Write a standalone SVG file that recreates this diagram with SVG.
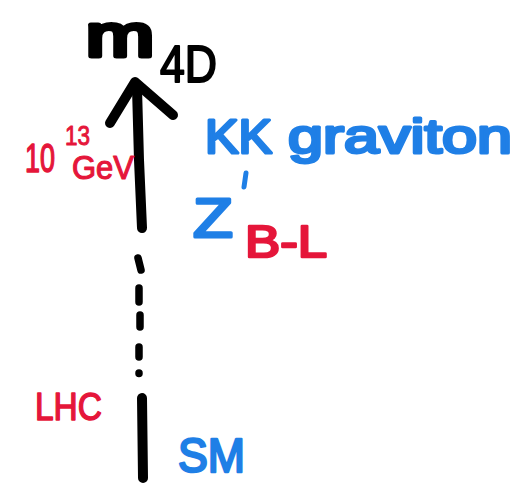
<svg xmlns="http://www.w3.org/2000/svg" width="519" height="486" viewBox="0 0 519 486">
<style>
.ink{fill:none;stroke:#000;stroke-linecap:round;stroke-linejoin:round}
.t{font-family:"Liberation Sans",Arial,sans-serif;stroke-linejoin:round}
.blue{fill:#1f7fe6;stroke:#1f7fe6}
.red{fill:#e5163a;stroke:#e5163a}
.blk{fill:#000;stroke:#000}
</style>
<rect width="519" height="486" fill="#fff"/>
<g id="connectors">
<g id="scale-axis">
<path class="ink" stroke-width="10" d="M142,228 L139,160 L137,88"/>
<polyline class="ink" stroke-width="10" points="110,123 135,82 173,115"/>
<path class="ink" stroke-width="7.5" d="M138,258 L141,270 M139,288 L139,302 M140,315 L140,327 M139,347 L139,357 M139,373 L139,373.5"/>
<path class="ink" stroke-width="10" d="M142,398 L143,478"/>
</g>
</g>
<g id="m4D">
<text class="t blk" x="86" y="56" font-size="60" stroke-width="5" textLength="68" lengthAdjust="spacingAndGlyphs">m</text>
<text class="t blk" x="160" y="82" font-size="52" stroke-width="2" textLength="57" lengthAdjust="spacingAndGlyphs">4D</text>
</g>
<g id="scale-1e13">
<text class="t red" x="25" y="172" font-size="40" stroke-width="1.5" textLength="30" lengthAdjust="spacingAndGlyphs">10</text>
<text class="t red" x="65" y="145" font-size="28" stroke-width="1" textLength="25" lengthAdjust="spacingAndGlyphs">13</text>
<text class="t red" x="72" y="179" font-size="34" stroke-width="1.2" textLength="62" lengthAdjust="spacingAndGlyphs">GeV</text>
</g>
<g id="kk-graviton">
<text class="t blue" y="153" font-size="48" stroke-width="3"><tspan x="205" textLength="81" lengthAdjust="spacingAndGlyphs">KK </tspan><tspan x="288" textLength="224" lengthAdjust="spacingAndGlyphs">graviton</tspan></text>
</g>
<g id="z-prime">
<text class="t blue" x="193" y="237" font-size="56" stroke-width="3" textLength="40" lengthAdjust="spacingAndGlyphs">Z</text>
<path d="M246,173 L244,187" stroke="#1f7fe6" stroke-width="5" stroke-linecap="round"/>
<text class="t red" x="245" y="257" font-size="44" stroke-width="2.5" textLength="82" lengthAdjust="spacingAndGlyphs">B-L</text>
</g>
<g id="lhc">
<text class="t red" x="35" y="420" font-size="38" stroke-width="1.5" textLength="67" lengthAdjust="spacingAndGlyphs">LHC</text>
</g>
<g id="sm">
<text class="t blue" x="178" y="472" font-size="48" stroke-width="2.5" textLength="67" lengthAdjust="spacingAndGlyphs">SM</text>
</g>
</svg>
